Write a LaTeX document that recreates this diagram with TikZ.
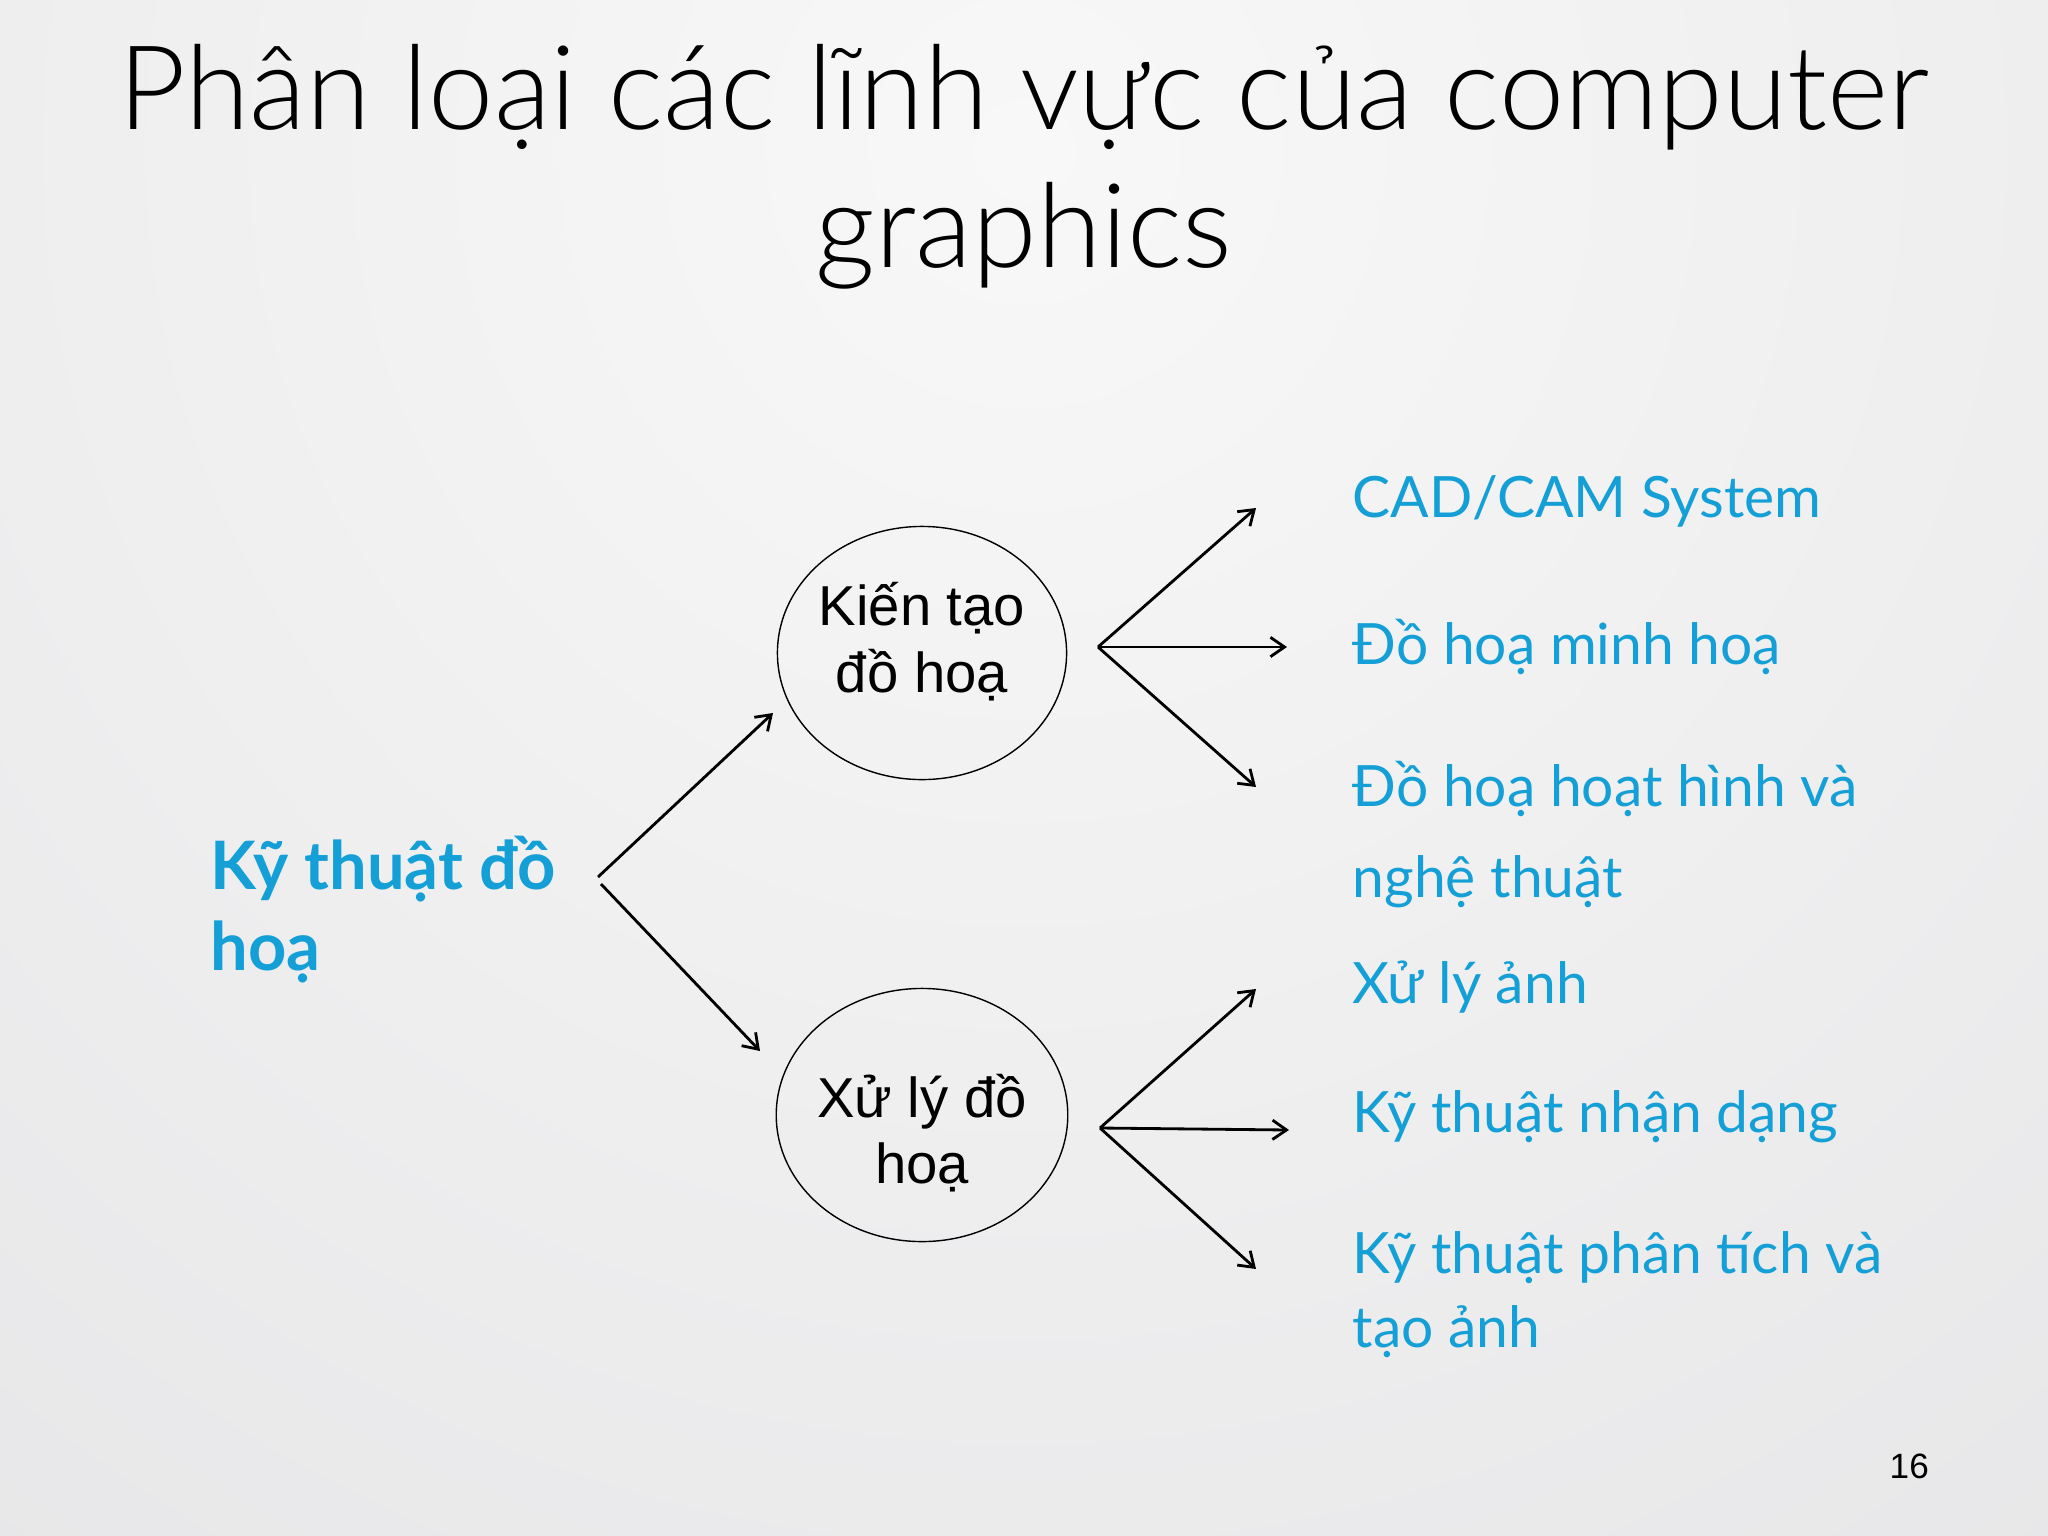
\documentclass[tikz,border=0pt]{standalone}
\usepackage{fontspec}
\setmainfont{Liberation Sans}
\newfontfamily\titlefont{Lato Light}
\newfontfamily\bluefont{Lato}
\usetikzlibrary{shapes.geometric, arrows.meta, positioning}
\definecolor{blue1}{RGB}{20, 160, 215}
\definecolor{bgtop}{RGB}{248, 248, 248}
\definecolor{bgbot}{RGB}{219, 219, 222}

\begin{document}
\begin{tikzpicture}[x=0.01cm, y=-0.01cm,
    blob/.style={ellipse, draw, minimum width=2.89cm, minimum height=2.53cm, inner xsep=-0.5pt, inner ysep=0pt, align=center, font=\fontsize{16}{16.8}\selectfont},
    item/.style={anchor=base west, align=left, inner sep=0pt, text=blue1, font=\bluefont\fontsize{16.2}{19}\selectfont},
    arrow/.style={-{Straight Barb[length=4pt, width=5.5pt]}, thick}]
    \useasboundingbox (0,0) rectangle (2048,1536);
    \begin{scope}
        \clip (0,0) rectangle (2048,1536);
        \fill[bgbot] (0,0) rectangle (2048,1536);
        \shade[inner color=bgtop, outer color=bgbot] (1024,150) circle (3000);
    \end{scope}
    \node[anchor=base, align=center, inner sep=0pt, font=\titlefont\fontsize{33.3}{39}\selectfont] (title) at (1024,267) {Phân loại các lĩnh vực của computer\\graphics};
    \node[anchor=base west, align=left, inner sep=0pt, text=blue1, font=\bluefont\bfseries\fontsize{19}{22.8}\selectfont] (root) at (210,970) {Kỹ thuật đồ\\hoạ};
    \node[blob, text height=28pt, text depth=5.5pt] (kien) at (922,653) {Kiến tạo\\[2.2pt]đồ hoạ};
    \node[blob, text height=44pt, text depth=4.8pt] (xuly) at (922,1115) {Xử lý đồ\\[2.2pt]hoạ};
    \node[item] (cad) at (1352,517) {CAD/CAM System};
    \node[item] (minh) at (1352,664) {Đồ hoạ minh hoạ};
    \node[item] (hoat) at (1352,897) {Đồ hoạ hoạt hình và\\[6.6pt]nghệ thuật};
    \node[item] (anh) at (1352,1003) {Xử lý ảnh};
    \node[item] (nhan) at (1352,1132) {Kỹ thuật nhận dạng};
    \node[item] (phan) at (1352,1347) {Kỹ thuật phân tích và\\[2pt]tạo ảnh};
    \node[anchor=base west, inner sep=0pt, font=\fontsize{10}{12}\selectfont] (page) at (1889,1478) {16};
    % arrow ends
    \coordinate (rootup) at (598,877);
    \coordinate (rootdown) at (601,884);
    \coordinate (kienin) at (773,713);
    \coordinate (xulyin) at (760,1051);
    \coordinate (kienfork) at (1098,647);
    \coordinate (xulyfork) at (1100,1128);
    \coordinate (cadtip) at (1256,508);
    \coordinate (minhtip) at (1287,647);
    \coordinate (hoattip) at (1256,787);
    \coordinate (anhtip) at (1256,989);
    \coordinate (nhantip) at (1289,1130);
    \coordinate (phantip) at (1256,1269);
    \draw[arrow] (rootup) -- (kienin);
    \draw[arrow] (rootdown) -- (xulyin);
    \draw[arrow] (kienfork) -- (cadtip);
    \draw[arrow] (kienfork) -- (minhtip);
    \draw[arrow] (kienfork) -- (hoattip);
    \draw[arrow] (xulyfork) -- (anhtip);
    \draw[arrow] (xulyfork) -- (nhantip);
    \draw[arrow] (xulyfork) -- (phantip);
\end{tikzpicture}
\end{document}
